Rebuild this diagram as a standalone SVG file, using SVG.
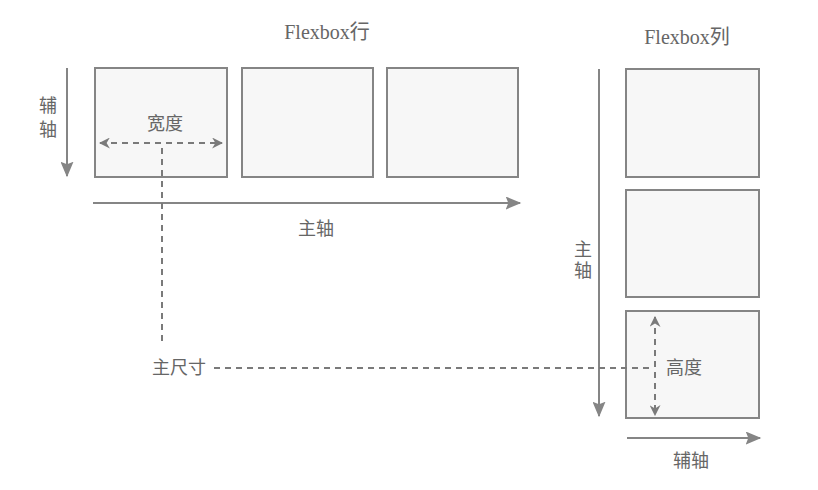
<svg xmlns="http://www.w3.org/2000/svg" width="818" height="490" viewBox="0 0 818 490">
<defs>
<style>
.box{fill:#f7f7f7;stroke:#858585;stroke-width:2}
.axis{stroke:#858585;stroke-width:2;fill:none}
.dash{stroke:#7a7a7a;stroke-width:2;fill:none;stroke-dasharray:6,5}
.t{font-family:"Liberation Serif","Noto Sans CJK SC",serif;font-size:18px;fill:#666}
.title{font-size:20px}
</style>
<marker id="ah" viewBox="0 0 12 10" refX="11" refY="5" markerWidth="8" markerHeight="6.5" orient="auto-start-reverse" markerUnits="strokeWidth">
<path d="M0,0 L12,5 L0,10 L2,5 z" fill="#858585"/>
</marker>
<marker id="dh" viewBox="0 0 10 10" refX="9" refY="5" markerWidth="5.5" markerHeight="5.5" orient="auto-start-reverse" markerUnits="strokeWidth">
<path d="M0,0 L10,5 L0,10 L3,5 z" fill="#7a7a7a"/>
</marker>
</defs>
<rect width="818" height="490" fill="#ffffff"/>
<text class="t title" x="327" y="39" text-anchor="middle">Flexbox行</text>
<text class="t title" x="687" y="44" text-anchor="middle">Flexbox列</text>
<g id="row-item-1"><rect class="box" x="95" y="68" width="132" height="109"/></g>
<g id="row-item-2"><rect class="box" x="242" y="68" width="131" height="109"/></g>
<g id="row-item-3"><rect class="box" x="387" y="68" width="131" height="109"/></g>
<g id="col-item-1"><rect class="box" x="626" y="69" width="133" height="108"/></g>
<g id="col-item-2"><rect class="box" x="626" y="190" width="133" height="107"/></g>
<g id="col-item-3"><rect class="box" x="626" y="311" width="133" height="107"/></g>
<g id="connectors">
<line class="axis" x1="67" y1="68" x2="67" y2="176" marker-end="url(#ah)"/>
<line class="axis" x1="93" y1="203" x2="520" y2="203" marker-end="url(#ah)"/>
<line class="axis" x1="599" y1="69" x2="599" y2="416" marker-end="url(#ah)"/>
<line class="axis" x1="627" y1="438" x2="760" y2="438" marker-end="url(#ah)"/>
<line class="dash" x1="100" y1="143" x2="222" y2="143" marker-start="url(#dh)" marker-end="url(#dh)"/>
<line class="dash" x1="655" y1="317" x2="655" y2="415" marker-start="url(#dh)" marker-end="url(#dh)"/>
<line class="dash" x1="162" y1="148" x2="162" y2="345"/>
<line class="dash" x1="214" y1="368" x2="653" y2="368"/>
</g>
<g id="labels">
<text class="t" x="48" y="112" text-anchor="middle">辅</text>
<text class="t" x="48" y="136" text-anchor="middle">轴</text>
<text class="t" x="165" y="130" text-anchor="middle">宽度</text>
<text class="t" x="316" y="235" text-anchor="middle">主轴</text>
<text class="t" x="583" y="256" text-anchor="middle">主</text>
<text class="t" x="583" y="277" text-anchor="middle">轴</text>
<text class="t" x="179" y="374" text-anchor="middle">主尺寸</text>
<text class="t" x="684" y="374" text-anchor="middle">高度</text>
<text class="t" x="691" y="467" text-anchor="middle">辅轴</text>
</g>
</svg>
